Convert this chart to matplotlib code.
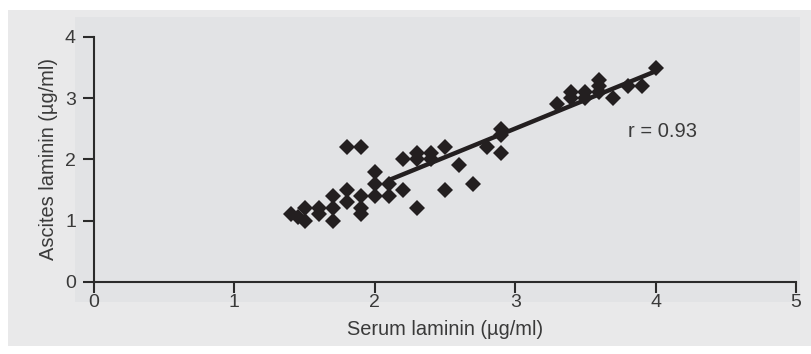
import matplotlib
matplotlib.use("Agg")
import matplotlib.pyplot as plt
from matplotlib.patches import Rectangle

# serum vs ascites laminin (ug/ml)
serum = [1.4, 1.45, 1.5, 1.5, 1.6, 1.6, 1.7, 1.7, 1.7, 1.8, 1.8, 1.8,
         1.9, 1.9, 1.9, 1.9, 2.0, 2.0, 2.0, 2.1, 2.1, 2.2, 2.2, 2.3,
         2.3, 2.3, 2.4, 2.4, 2.5, 2.5, 2.6, 2.7, 2.8, 2.9, 2.9, 2.9,
         3.3, 3.4, 3.4, 3.5, 3.5, 3.6, 3.6, 3.6, 3.7, 3.8, 3.9, 4.0]
ascites = [1.1, 1.05, 1.0, 1.2, 1.2, 1.1, 1.0, 1.4, 1.2, 2.2, 1.5, 1.3,
           2.2, 1.1, 1.2, 1.4, 1.8, 1.6, 1.4, 1.6, 1.4, 1.5, 2.0, 2.1,
           1.2, 2.0, 2.1, 2.0, 2.2, 1.5, 1.9, 1.6, 2.2, 2.5, 2.4, 2.1,
           2.9, 3.1, 3.0, 3.1, 3.0, 3.3, 3.2, 3.1, 3.0, 3.2, 3.2, 3.5]

# regression line end points
fit_x = [2.1, 4.0]
fit_y = [1.66, 3.44]

x_ticks = [0, 1, 2, 3, 4, 5]
y_ticks = [0, 1, 2, 3, 4]

text_col = '#3a3a3a'
mark_col = '#231f20'

plt.rcParams['font.family'] = ['Liberation Sans', 'DejaVu Sans']

fig = plt.figure(figsize=(8.12, 3.54), dpi=100)
fig.patch.set_facecolor('white')

# outer and inner grey panels
fig.patches.append(Rectangle((0.0099, 0.0226), 0.99, 0.9492, transform=fig.transFigure,
                             facecolor='#e9e9ea', edgecolor='none', zorder=-2))
fig.patches.append(Rectangle((0.0924, 0.147), 0.8926, 0.805, transform=fig.transFigure,
                             facecolor='#e2e3e5', edgecolor='none', zorder=-1))

ax = fig.add_axes([0.1158, 0.2043, 0.8645, 0.6912])
ax.set_facecolor('none')

ax.plot(fit_x, fit_y, color=mark_col, lw=3.2, solid_capstyle='butt', zorder=2)
ax.plot(serum, ascites, linestyle='none', marker='D', ms=7.8, mew=0,
        color=mark_col, zorder=3)

ax.set_xlim(0, 5)
ax.set_ylim(0, 4)
ax.set_xticks(x_ticks)
ax.set_yticks(y_ticks)

for s in ['top', 'right']:
    ax.spines[s].set_visible(False)
for s in ['left', 'bottom']:
    ax.spines[s].set_color('#2b2b2b')
    ax.spines[s].set_linewidth(1.5)

ax.tick_params(direction='out', length=8, width=1.5, color='#2b2b2b',
               labelsize=14, labelcolor=text_col)
ax.tick_params(axis='x', pad=1)
ax.tick_params(axis='y', pad=5)

ax.set_xlabel('Serum laminin (µg/ml)', fontsize=14.4, color=text_col, labelpad=6)
ax.set_ylabel('Ascites laminin (µg/ml)', fontsize=14.4, color=text_col, labelpad=5)

ax.text(3.8, 2.45, 'r = 0.93', fontsize=14.5, color=text_col, ha='left', va='center')

fig.savefig('out.png', dpi=100)
